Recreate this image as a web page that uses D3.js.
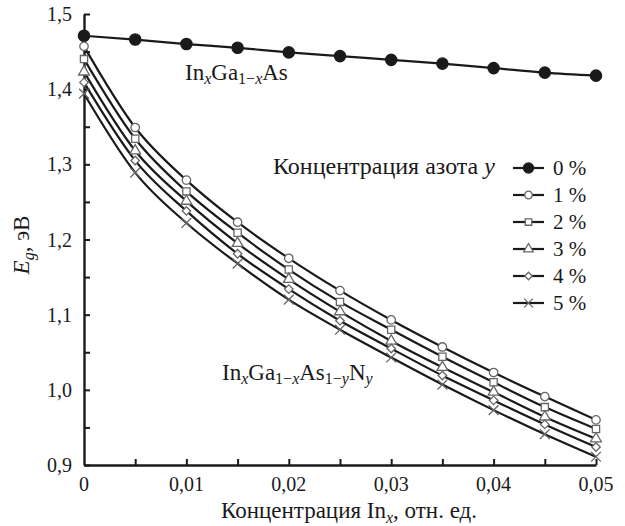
<!DOCTYPE html>
<html>
<head>
<meta charset="utf-8">
<script src="https://cdn.jsdelivr.net/npm/d3@7"></script>
<style>
  body { margin: 0; background: #fff; }
</style>
</head>
<body>
<div id="chart"></div>
<script>
// Indium concentration, x
var xValues = [0, 0.005, 0.01, 0.015, 0.02, 0.025, 0.03, 0.035, 0.04, 0.045, 0.05];

// Band gap Eg (eV) for each nitrogen concentration
var eg0 = [1.471, 1.466, 1.460, 1.455, 1.449, 1.444, 1.439, 1.434, 1.428, 1.422, 1.418];
var eg1 = [1.457, 1.349, 1.279, 1.223, 1.175, 1.132, 1.093, 1.057, 1.023, 0.991, 0.960];
var eg2 = [1.440, 1.334, 1.264, 1.209, 1.160, 1.117, 1.080, 1.044, 1.010, 0.977, 0.948];
var eg3 = [1.423, 1.318, 1.251, 1.195, 1.147, 1.104, 1.065, 1.030, 0.997, 0.964, 0.935];
var eg4 = [1.409, 1.305, 1.238, 1.181, 1.134, 1.092, 1.055, 1.019, 0.986, 0.954, 0.924];
var eg5 = [1.394, 1.289, 1.222, 1.168, 1.120, 1.080, 1.043, 1.007, 0.973, 0.941, 0.911];

var seriesNames = ["0 %", "1 %", "2 %", "3 %", "4 %", "5 %"];
var seriesValues = [eg0, eg1, eg2, eg3, eg4, eg5];

var xTickValues = [0, 0.01, 0.02, 0.03, 0.04, 0.05];
var xTickLabels = ["0", "0,01", "0,02", "0,03", "0,04", "0,05"];
var yTickValues = [0.9, 1.0, 1.1, 1.2, 1.3, 1.4, 1.5];
var yTickLabels = ["0,9", "1,0", "1,1", "1,2", "1,3", "1,4", "1,5"];

var FONT = "'Liberation Serif', Tinos, 'Times New Roman', 'DejaVu Serif', serif";

var width = 625, height = 526;
var margin = { top: 14, right: 29, bottom: 61, left: 84 };
var w = width - margin.left - margin.right;
var h = height - margin.top - margin.bottom;

var svg = d3.select("#chart").append("svg")
    .attr("width", width)
    .attr("height", height)
    .style("font-family", FONT);

var g = svg.append("g")
    .attr("transform", "translate(" + margin.left + "," + margin.top + ")");

var x = d3.scaleLinear().domain([0, 0.05]).range([0, w]);
var y = d3.scaleLinear().domain([0.9, 1.5]).range([h, 0]);

// axes: ticks point inward, minor ticks at half steps
var xAxis = d3.axisBottom(x)
    .tickValues(d3.range(0, 0.0501, 0.005))
    .tickSizeInner(-6).tickSizeOuter(0)
    .tickFormat("");
var yAxis = d3.axisLeft(y)
    .tickValues(d3.range(0.9, 1.5001, 0.05))
    .tickSizeInner(-6).tickSizeOuter(0)
    .tickFormat("");

var gx = g.append("g").attr("transform", "translate(0," + h + ")").call(xAxis);
var gy = g.append("g").call(yAxis);
[gx, gy].forEach(function (a) {
    a.select(".domain").attr("stroke", "#1a1a1a").attr("stroke-width", 2.4);
    a.selectAll(".tick line").attr("stroke", "#1a1a1a").attr("stroke-width", 2);
});
gx.selectAll(".tick").filter(function (d) { return d === 0; }).remove();

g.selectAll(".xlab").data(xTickValues).enter().append("text")
    .attr("x", function (d) { return x(d); })
    .attr("y", h + 26)
    .attr("text-anchor", "middle")
    .attr("fill", "#1a1a1a")
    .style("font-size", "20px")
    .text(function (d, i) { return xTickLabels[i]; });

g.selectAll(".ylab").data(yTickValues).enter().append("text")
    .attr("x", -12)
    .attr("y", function (d) { return y(d); })
    .attr("dy", "0.35em")
    .attr("text-anchor", "end")
    .attr("fill", "#1a1a1a")
    .style("font-size", "20px")
    .text(function (d, i) { return yTickLabels[i]; });

// axis titles
var xt = svg.append("text")
    .attr("x", 349).attr("y", 518)
    .attr("text-anchor", "middle")
    .attr("fill", "#1a1a1a")
    .style("font-size", "23px");
xt.append("tspan").text("Концентрация In");
xt.append("tspan").attr("dy", 5).style("font-size", "16px").style("font-style", "italic").text("x");
xt.append("tspan").attr("dy", -5).text(", отн. ед.");

var yt = svg.append("text")
    .attr("transform", "translate(29,245) rotate(-90)")
    .attr("text-anchor", "middle")
    .attr("fill", "#1a1a1a")
    .style("font-size", "23px");
yt.append("tspan").style("font-style", "italic").text("E");
yt.append("tspan").attr("dy", 5).style("font-size", "16px").style("font-style", "italic").text("g");
yt.append("tspan").attr("dy", -5).text(", эВ");

// symbols
var symbols = [
    { type: d3.symbolCircle, size: 100, fill: "#1a1a1a", stroke: "#1a1a1a" },
    { type: d3.symbolCircle, size: 56, fill: "#fff", stroke: "#666" },
    { type: d3.symbolSquare, size: 52, fill: "#fff", stroke: "#666" },
    { type: d3.symbolTriangle, size: 50, fill: "#fff", stroke: "#666" },
    { type: d3.symbolDiamond2, size: 46, fill: "#fff", stroke: "#666" },
    { type: d3.symbolTimes, size: 64, fill: "none", stroke: "#666" }
];

var line = d3.line()
    .x(function (d, i) { return x(xValues[i]); })
    .y(function (d) { return y(d); })
    .curve(d3.curveMonotoneX);

g.selectAll(".series-line").data(seriesValues).enter().append("path")
    .attr("class", "series-line")
    .attr("d", line)
    .attr("fill", "none")
    .attr("stroke", "#1a1a1a")
    .attr("stroke-width", 2.2);

seriesValues.forEach(function (vals, si) {
    var s = symbols[si];
    g.selectAll(".pt" + si).data(vals).enter().append("path")
        .attr("transform", function (d, i) { return "translate(" + x(xValues[i]) + "," + y(d) + ")"; })
        .attr("d", d3.symbol().type(s.type).size(s.size))
        .attr("fill", s.fill)
        .attr("stroke", s.stroke)
        .attr("stroke-width", 1.3);
});

// annotations
function formula(sel, parts) {
    parts.forEach(function (p) {
        var t = sel.append("tspan").text(p[0]);
        if (p[1]) t.style("font-size", "16px");
        if (p[2]) t.style("font-style", "italic");
        if (p[3]) t.attr("dy", p[3]);
    });
}

var a1 = svg.append("text").attr("x", 185).attr("y", 80)
    .attr("fill", "#1a1a1a").style("font-size", "23px");
formula(a1, [["In"], ["x", 1, 1, 4], ["Ga", 0, 0, -4], ["1−", 1, 0, 4], ["x", 1, 1], ["As", 0, 0, -4]]);

var a2 = svg.append("text").attr("x", 222).attr("y", 380)
    .attr("fill", "#1a1a1a").style("font-size", "23px");
formula(a2, [["In"], ["x", 1, 1, 4], ["Ga", 0, 0, -4], ["1−", 1, 0, 4], ["x", 1, 1], ["As", 0, 0, -4],
    ["1−", 1, 0, 4], ["y", 1, 1], ["N", 0, 0, -4], ["y", 1, 1, 4]]);

// legend
var lt = svg.append("text").attr("x", 273).attr("y", 174)
    .attr("fill", "#1a1a1a").style("font-size", "24px");
lt.append("tspan").text("Концентрация азота ");
lt.append("tspan").style("font-style", "italic").text("y");

var legend = svg.append("g").attr("transform", "translate(513,168)");
var rows = legend.selectAll(".row").data(seriesNames).enter().append("g")
    .attr("transform", function (d, i) { return "translate(0," + (i * 27) + ")"; });
rows.append("line")
    .attr("x1", 0).attr("x2", 31)
    .attr("stroke", "#1a1a1a").attr("stroke-width", 2.2);
rows.append("path")
    .attr("transform", "translate(15.5,0)")
    .attr("d", function (d, i) { return d3.symbol().type(symbols[i].type).size(symbols[i].size * 0.8)(); })
    .attr("fill", function (d, i) { return symbols[i].fill; })
    .attr("stroke", function (d, i) { return symbols[i].stroke; })
    .attr("stroke-width", 1.3);
rows.append("text")
    .attr("x", 40).attr("dy", "0.35em")
    .attr("fill", "#1a1a1a")
    .style("font-size", "21px")
    .text(function (d) { return d; });
</script>
</body>
</html>
